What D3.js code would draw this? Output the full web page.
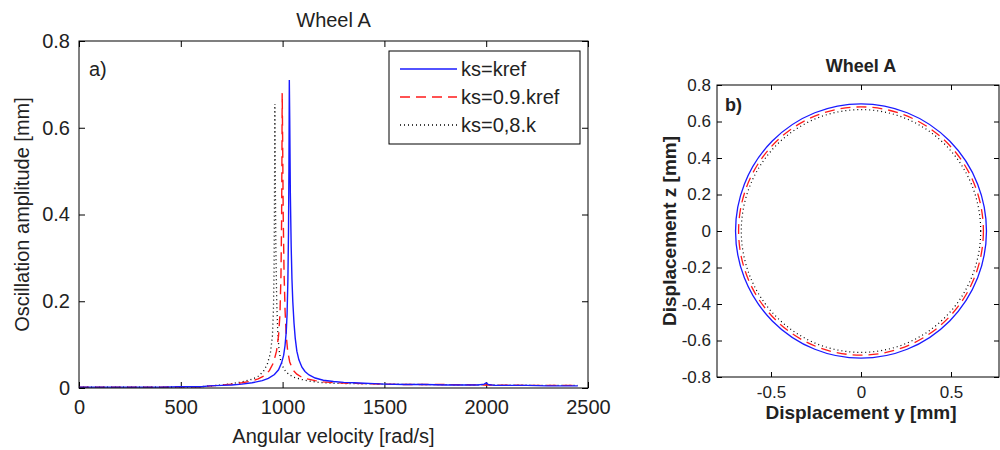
<!DOCTYPE html>
<html><head><meta charset="utf-8">
<script src="https://cdn.jsdelivr.net/npm/d3@7"></script>
<style>body{margin:0;background:#fff}svg{display:block}text{font-family:"Liberation Sans",Arial,sans-serif;fill:#222}</style>
</head><body><svg id="c" width="1000" height="450"></svg>
<script>
// ---- Data: panel a) oscillation amplitude vs angular velocity ----
const seriesNames = ["ks=kref", "ks=0.9.kref", "ks=0,8.k"];
const blueX = [0,100,200,300,400,500,600,640,700,750,800,850,900,930,960,980,995,1005,1012,1018,1022,1026,1029,1031,1033,1035,1038,1042,1046,1050,1056,1062,1070,1080,1095,1110,1130,1160,1200,1250,1300,1350,1400,1450,1500,1600,1700,1800,1900,1960,1990,2000,2010,2040,2100,2200,2300,2400,2450];
const blueY = [0.002,0.002,0.002,0.002,0.002,0.003,0.003,0.005,0.006,0.007,0.009,0.012,0.017,0.022,0.031,0.042,0.058,0.075,0.098,0.13,0.17,0.25,0.36,0.50,0.71,0.62,0.45,0.33,0.25,0.20,0.15,0.115,0.085,0.065,0.048,0.038,0.030,0.023,0.018,0.015,0.013,0.012,0.011,0.010,0.009,0.008,0.008,0.007,0.007,0.007,0.009,0.012,0.008,0.006,0.006,0.006,0.005,0.005,0.005];
const redX = [0,100,200,300,400,500,600,650,700,750,800,850,880,910,935,955,970,980,987,992,995,997,998,1000,1003,1007,1012,1018,1025,1035,1050,1070,1090,1120,1160,1200,1260,1320,1400,1500,1600,1800,2000,2200,2450];
const redY = [0.002,0.002,0.002,0.002,0.002,0.003,0.003,0.005,0.007,0.009,0.012,0.016,0.021,0.028,0.040,0.058,0.085,0.12,0.17,0.26,0.38,0.55,0.68,0.58,0.40,0.27,0.18,0.12,0.085,0.06,0.042,0.032,0.026,0.021,0.017,0.014,0.012,0.011,0.010,0.009,0.008,0.008,0.007,0.006,0.006];
const blackX = [0,200,400,600,700,750,800,850,880,905,925,940,950,955,958,960,962,964,967,971,976,982,990,1000,1015,1035,1060,1090,1130,1180,1250,1350,1500,1700,2000,2300,2450];
const blackY = [0.002,0.002,0.002,0.003,0.007,0.010,0.014,0.020,0.027,0.038,0.055,0.08,0.12,0.18,0.27,0.42,0.655,0.5,0.32,0.2,0.13,0.09,0.065,0.05,0.038,0.03,0.024,0.02,0.016,0.013,0.011,0.01,0.009,0.008,0.007,0.006,0.006];
const xTicksA = [0,500,1000,1500,2000,2500];
const yTicksA = [0,0.2,0.4,0.6,0.8];
// ---- Data: panel b) orbit radii (mm) ----
const orbitRadius = [0.697, 0.680, 0.665];
const xTicksB = [-0.5, 0, 0.5];
const yTicksB = [-0.8,-0.6,-0.4,-0.2,0,0.2,0.4,0.6,0.8];

const colors = ["#1a1aff", "#ff1a1a", "#000"];
const dashes = [null, "10,6", "1,3"];

const svg = d3.select("#c");

// ===== Panel a =====
const A = {l:79, r:588, t:41, b:388};
const xa = d3.scaleLinear().domain([0,2500]).range([A.l,A.r]);
const ya = d3.scaleLinear().domain([0,0.8]).range([A.b,A.t]);
const ga = svg.append("g");
const fmtA = d => d === 0 ? "0" : String(d);
ga.append("g").attr("transform",`translate(0,${A.b})`)
  .call(d3.axisBottom(xa).tickValues(xTicksA).tickSizeInner(-6).tickSizeOuter(0).tickPadding(12).tickFormat(fmtA))
  .call(g=>{g.select(".domain").remove();g.selectAll("line").attr("stroke","#000");g.selectAll("text").attr("font-size",20).attr("fill","#222").style("font-family","Liberation Sans, Arial");});
ga.append("g").attr("transform",`translate(0,${A.t})`)
  .call(d3.axisTop(xa).tickValues(xTicksA).tickSizeInner(-6).tickSizeOuter(0).tickFormat(""))
  .call(g=>{g.select(".domain").remove();g.selectAll("line").attr("stroke","#000");});
ga.append("g").attr("transform",`translate(${A.l},0)`)
  .call(d3.axisLeft(ya).tickValues(yTicksA).tickSizeInner(-6).tickSizeOuter(0).tickPadding(9).tickFormat(fmtA))
  .call(g=>{g.select(".domain").remove();g.selectAll("line").attr("stroke","#000");g.selectAll("text").attr("font-size",20).attr("fill","#222").style("font-family","Liberation Sans, Arial");});
ga.append("g").attr("transform",`translate(${A.r},0)`)
  .call(d3.axisRight(ya).tickValues(yTicksA).tickSizeInner(-6).tickSizeOuter(0).tickFormat(""))
  .call(g=>{g.select(".domain").remove();g.selectAll("line").attr("stroke","#000");});

const lineA = d3.line().x(d=>xa(d[0])).y(d=>ya(d[1]));
const seriesA = [d3.zip(blueX,blueY), d3.zip(redX,redY), d3.zip(blackX,blackY)];
[2,1,0].forEach(i=>{
  ga.append("path").datum(seriesA[i]).attr("d",lineA).attr("fill","none")
    .attr("stroke",colors[i]).attr("stroke-width", i===2?1.3:1.4)
    .attr("stroke-dasharray",dashes[i]);
});
ga.append("rect").attr("x",A.l).attr("y",A.t).attr("width",A.r-A.l).attr("height",A.b-A.t)
  .attr("fill","none").attr("stroke","#000").attr("stroke-width",1);
ga.append("text").attr("x",(A.l+A.r)/2).attr("y",27).attr("text-anchor","middle").attr("font-size",20).text("Wheel A");
ga.append("text").attr("x",(A.l+A.r)/2).attr("y",443).attr("text-anchor","middle").attr("font-size",20).text("Angular velocity [rad/s]");
ga.append("text").attr("transform",`translate(29,${(A.t+A.b)/2}) rotate(-90)`).attr("text-anchor","middle").attr("font-size",20).text("Oscillation amplitude [mm]");
ga.append("text").attr("x",89).attr("y",76).attr("font-size",20).text("a)");

// legend
const L = {x:389, y:51, w:191, h:93};
const lg = ga.append("g");
lg.append("rect").attr("x",L.x).attr("y",L.y).attr("width",L.w).attr("height",L.h).attr("fill","#fff").attr("stroke","#000");
seriesNames.forEach((n,i)=>{
  const yy = L.y + 18 + i*28;
  lg.append("line").attr("x1",L.x+11).attr("x2",L.x+68).attr("y1",yy).attr("y2",yy)
    .attr("stroke",colors[i]).attr("stroke-width",1.4).attr("stroke-dasharray",dashes[i]);
  lg.append("text").attr("x",L.x+72).attr("y",yy+7).attr("font-size",20).text(n);
});

// ===== Panel b =====
const B = {l:717, r:1005, t:85, b:377};
const xb = d3.scaleLinear().domain([-0.8,0.8]).range([B.l,B.r]);
const yb = d3.scaleLinear().domain([-0.8,0.8]).range([B.b,B.t]);
const frameR = Math.min(B.r, 999);
const gb = svg.append("g");
const fmtB = d => d === 0 ? "0" : String(d).replace(/^(-?)0\./,"$10.");
gb.append("g").attr("transform",`translate(0,${B.b})`)
  .call(d3.axisBottom(xb).tickValues(xTicksB).tickSizeInner(-5).tickSizeOuter(0).tickPadding(9).tickFormat(fmtB))
  .call(g=>{g.select(".domain").remove();g.selectAll("line").attr("stroke","#000");g.selectAll("text").attr("font-size",17).attr("fill","#333").style("font-family","Liberation Sans, Arial");});
gb.append("g").attr("transform",`translate(0,${B.t})`)
  .call(d3.axisTop(xb).tickValues(xTicksB).tickSizeInner(-5).tickSizeOuter(0).tickFormat(""))
  .call(g=>{g.select(".domain").remove();g.selectAll("line").attr("stroke","#000");});
gb.append("g").attr("transform",`translate(${B.l},0)`)
  .call(d3.axisLeft(yb).tickValues(yTicksB).tickSizeInner(-5).tickSizeOuter(0).tickPadding(6).tickFormat(fmtB))
  .call(g=>{g.select(".domain").remove();g.selectAll("line").attr("stroke","#000");g.selectAll("text").attr("font-size",17).attr("fill","#333").style("font-family","Liberation Sans, Arial");});
gb.append("g").attr("transform",`translate(${frameR},0)`)
  .call(d3.axisRight(yb).tickValues(yTicksB).tickSizeInner(-5).tickSizeOuter(0).tickFormat(""))
  .call(g=>{g.select(".domain").remove();g.selectAll("line").attr("stroke","#000");});
[2,1,0].forEach(i=>{
  const r = orbitRadius[i];
  gb.append("ellipse").attr("cx",xb(0)).attr("cy",yb(0))
    .attr("rx",xb(r)-xb(0)).attr("ry",yb(0)-yb(r))
    .attr("fill","none").attr("stroke",colors[i]).attr("stroke-width",i===2?1.2:1.3)
    .attr("stroke-dasharray",dashes[i]);
});
gb.append("rect").attr("x",B.l).attr("y",B.t).attr("width",frameR-B.l).attr("height",B.b-B.t)
  .attr("fill","none").attr("stroke","#000");
gb.append("text").attr("x",xb(0)).attr("y",72).attr("text-anchor","middle").attr("font-size",18).attr("font-weight","bold").text("Wheel A");
gb.append("text").attr("x",xb(0)).attr("y",419).attr("text-anchor","middle").attr("font-size",19).attr("font-weight","bold").text("Displacement y [mm]");
gb.append("text").attr("transform",`translate(676,${(B.t+B.b)/2}) rotate(-90)`).attr("text-anchor","middle").attr("font-size",19).attr("font-weight","bold").text("Displacement z [mm]");
gb.append("text").attr("x",725).attr("y",111).attr("font-size",18).attr("font-weight","bold").text("b)");
</script></body></html>
